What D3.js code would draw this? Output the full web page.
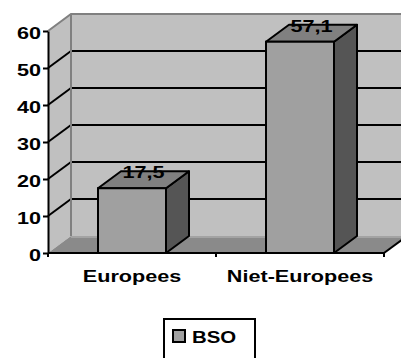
<!DOCTYPE html>
<html>
<head>
<meta charset="utf-8">
<script src="https://cdn.jsdelivr.net/npm/d3@7"></script>
<style>
  html, body { margin: 0; padding: 0; background: #fff; }
  svg { display: block; }
  text { font-family: "Liberation Sans", Arial, sans-serif; font-weight: bold; }
</style>
</head>
<body>
<svg id="chart" width="401" height="358"></svg>
<script>
// Data
const categories = ["Europees", "Niet-Europees"];
const bsoValues = [17.5, 57.1];
const valueLabels = ["17,5", "57,1"];
const yTicks = [0, 10, 20, 30, 40, 50, 60];
const seriesName = "BSO";

const svg = d3.select("#chart");
const W = 401, H = 358;
const FS = 17;    // label font size
const SX = 1.27;  // wide lettering

// 3D plot geometry
const left = 48, right = 384, floorY = 253, topY = 31;
const dx = 23, dy = -17;

const x = d3.scaleBand().domain(categories).range([left, right])
  .paddingInner(100 / 168).paddingOuter(50 / 168);
const y = d3.scaleLinear().domain([0, 60]).range([floorY, topY]);

function wideText(sel, tx, ty, sx) {
  return sel.attr("x", 0).attr("y", 0)
    .attr("transform", (d, i) => `translate(${tx(d, i)},${ty(d, i)}) scale(${sx},1)`);
}

const g = svg.append("g");

const wallFill = "#c0c0c0";
const edgeGray = "#808080";

// Back wall
g.append("polygon")
  .attr("points", [[left + dx, y(60) + dy], [W, y(60) + dy], [W, floorY + dy], [left + dx, floorY + dy]].join(" "))
  .attr("fill", wallFill);

// Left side wall
g.append("polygon")
  .attr("points", [[left, floorY], [left, y(60)], [left + dx, y(60) + dy], [left + dx, floorY + dy]].join(" "))
  .attr("fill", wallFill);

// Gridlines on back wall and side wall
const grid = yTicks.filter(v => v > 0 && v < 60);
g.selectAll(".gridback").data(grid).join("line")
  .attr("x1", left + dx).attr("x2", W)
  .attr("y1", d => y(d) + dy).attr("y2", d => y(d) + dy)
  .attr("stroke", "#000").attr("stroke-width", 2);
g.selectAll(".gridside").data(grid).join("line")
  .attr("x1", left).attr("x2", left + dx)
  .attr("y1", d => y(d)).attr("y2", d => y(d) + dy)
  .attr("stroke", "#000").attr("stroke-width", 2);

// Wall edges
g.append("line").attr("x1", left + dx).attr("x2", left + dx)
  .attr("y1", y(60) + dy).attr("y2", floorY + dy)
  .attr("stroke", edgeGray).attr("stroke-width", 2);
g.append("polyline")
  .attr("points", [[left, y(60)], [left + dx, y(60) + dy], [W, y(60) + dy]].join(" "))
  .attr("fill", "none").attr("stroke", edgeGray).attr("stroke-width", 2);

// Floor
g.append("polygon")
  .attr("points", [[left, floorY], [right, floorY], [right + dx, floorY + dy], [left + dx, floorY + dy]].join(" "))
  .attr("fill", "#8a8a8a");
g.append("line").attr("x1", left + dx).attr("x2", W)
  .attr("y1", floorY + dy + 1).attr("y2", floorY + dy + 1)
  .attr("stroke", "#a3a3a3").attr("stroke-width", 2);
g.append("line").attr("x1", right).attr("x2", right + dx)
  .attr("y1", floorY).attr("y2", floorY + dy)
  .attr("stroke", "#000").attr("stroke-width", 2);

// Bars
const bw = x.bandwidth();
const bars = g.selectAll(".bar").data(categories.map((c, i) => ({ c, v: bsoValues[i], label: valueLabels[i] })))
  .join("g");

bars.append("polygon")
  .attr("points", d => {
    const x0 = x(d.c) + bw, yv = y(d.v);
    return [[x0, yv], [x0 + dx, yv + dy], [x0 + dx, floorY + dy], [x0, floorY]].join(" ");
  })
  .attr("fill", "#555555").attr("stroke", "#000").attr("stroke-width", 2).attr("stroke-linejoin", "round");

bars.append("polygon")
  .attr("points", d => {
    const x0 = x(d.c), yv = y(d.v);
    return [[x0, yv], [x0 + dx, yv + dy], [x0 + bw + dx, yv + dy], [x0 + bw, yv]].join(" ");
  })
  .attr("fill", "#808080").attr("stroke", "#000").attr("stroke-width", 2).attr("stroke-linejoin", "round");

bars.append("rect")
  .attr("x", d => x(d.c)).attr("y", d => y(d.v))
  .attr("width", bw).attr("height", d => floorY - y(d.v))
  .attr("fill", "#a0a0a0").attr("stroke", "#000").attr("stroke-width", 2);

// Value labels
wideText(bars.append("text"),
  d => x(d.c) + bw / 2 + dx / 2, d => y(d.v) + dy + 7, SX)
  .attr("text-anchor", "middle").attr("font-size", FS).attr("fill", "#000")
  .text(d => d.label);

// Y axis on the front edge
const yAxis = d3.axisLeft(y).tickValues(yTicks).tickSizeInner(5).tickSizeOuter(0).tickPadding(2);
const ya = svg.append("g").attr("transform", `translate(${left},0)`).call(yAxis);
ya.select(".domain").attr("stroke", "#000").attr("stroke-width", 2);
ya.selectAll(".tick line").attr("stroke", "#000").attr("stroke-width", 2);
ya.selectAll(".tick text").attr("font-size", FS).attr("fill", "#000")
  .attr("font-family", "'Liberation Sans', Arial, sans-serif").attr("font-weight", "bold")
  .attr("x", 0).attr("dy", null).attr("y", 0)
  .attr("transform", `translate(-7,${7}) scale(${SX},1)`);

// X axis baseline with category separators
svg.append("line").attr("x1", left).attr("x2", right).attr("y1", floorY).attr("y2", floorY)
  .attr("stroke", "#000").attr("stroke-width", 2);
const seps = [left, ...categories.map(c => x(c) + bw / 2 + x.step() / 2)];
svg.selectAll(".sep").data(seps).join("line")
  .attr("x1", d => d).attr("x2", d => d).attr("y1", floorY).attr("y2", floorY + 4)
  .attr("stroke", "#000").attr("stroke-width", 2);

// Category labels
wideText(svg.selectAll(".cat").data(categories).join("text"),
  d => x(d) + bw / 2, () => 282, SX)
  .attr("text-anchor", "middle").attr("font-size", FS).attr("fill", "#000")
  .text(d => d);

// Legend
const lg = svg.append("g");
lg.append("rect").attr("x", 164).attr("y", 319).attr("width", 91).attr("height", 50)
  .attr("fill", "#fff").attr("stroke", "#000").attr("stroke-width", 2);
lg.append("rect").attr("x", 173).attr("y", 330).attr("width", 12).attr("height", 12)
  .attr("fill", "#a0a0a0").attr("stroke", "#000").attr("stroke-width", 2);
wideText(lg.append("text"), () => 192, () => 343, 1.2)
  .attr("font-size", FS).attr("fill", "#000")
  .text(seriesName);
</script>
</body>
</html>
